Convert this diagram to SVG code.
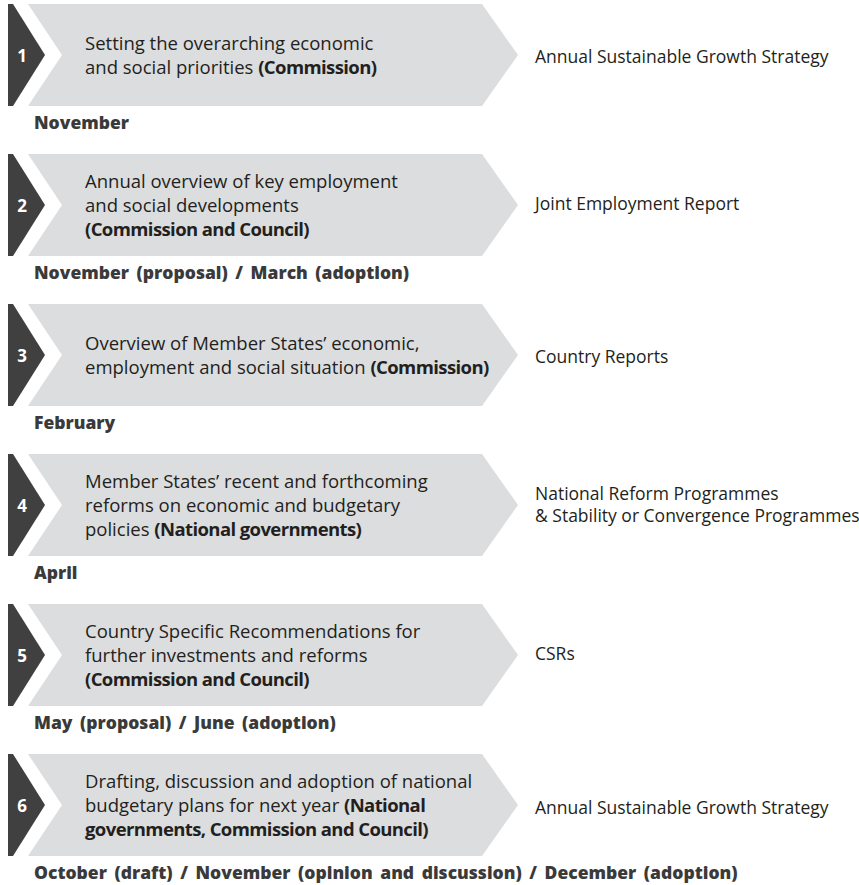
<svg xmlns="http://www.w3.org/2000/svg" width="859" height="885" viewBox="0 0 859 885">
<style>
.dark{fill:#404041}
.band{fill:#dcddde}
.num{font-family:"Open Sans","Liberation Sans",sans-serif;font-weight:700;font-size:17px;fill:#ffffff;text-anchor:middle}
.main{font-family:"Open Sans","Liberation Sans",sans-serif;font-size:18.5px;fill:#231f20}
.b{font-weight:700;letter-spacing:-0.6px}
.out{font-family:"Open Sans","Liberation Sans",sans-serif;font-size:17.5px;fill:#231f20}
.month{font-family:"Open Sans","Liberation Sans",sans-serif;font-weight:800;font-size:17.5px;word-spacing:3px;fill:#3a3a3b}
</style>
<defs>
<g id="step">
<polygon class="dark" points="8,0 13,0 45,51 13,102 8,102"/>
<polygon class="band" points="28,0 482,0 518,51 482,102 28,102 62,51"/>
</g>
</defs>
<g id="connectors"></g>
<g id="step1">
<use href="#step" x="0" y="4"/>
<text class="num" x="22" y="61.5">1</text>
<text class="main"><tspan x="85" y="49.5">Setting the overarching economic</tspan><tspan x="85" y="73.5">and social priorities <tspan class="b">(Commission)</tspan></tspan></text>
<text class="out" x="535" y="62.5">Annual Sustainable Growth Strategy</text>
<text class="month" x="34" y="129">November</text>
</g>
<g id="step2">
<use href="#step" x="0" y="154"/>
<text class="num" x="22" y="211.5">2</text>
<text class="main"><tspan x="85" y="187.5">Annual overview of key employment</tspan><tspan x="85" y="211.5">and social developments</tspan><tspan x="85" y="235.5" class="b">(Commission and Council)</tspan></text>
<text class="out" x="535" y="210">Joint Employment Report</text>
<text class="month" x="34" y="279">November (proposal) / March (adoption)</text>
</g>
<g id="step3">
<use href="#step" x="0" y="304"/>
<text class="num" x="22" y="361.5">3</text>
<text class="main"><tspan x="85" y="349.5">Overview of Member States’ economic,</tspan><tspan x="85" y="373.5">employment and social situation <tspan class="b">(Commission)</tspan></tspan></text>
<text class="out" x="535" y="363">Country Reports</text>
<text class="month" x="34" y="429">February</text>
</g>
<g id="step4">
<use href="#step" x="0" y="454"/>
<text class="num" x="22" y="511.5">4</text>
<text class="main"><tspan x="85" y="487.5">Member States’ recent and forthcoming</tspan><tspan x="85" y="511.5">reforms on economic and budgetary</tspan><tspan x="85" y="535.5">policies <tspan class="b">(National governments)</tspan></tspan></text>
<text class="out"><tspan x="535" y="500">National Reform Programmes</tspan><tspan x="535" y="522">&amp; Stability or Convergence Programmes</tspan></text>
<text class="month" x="34" y="579">April</text>
</g>
<g id="step5">
<use href="#step" x="0" y="604"/>
<text class="num" x="22" y="661.5">5</text>
<text class="main"><tspan x="85" y="637.5">Country Specific Recommendations for</tspan><tspan x="85" y="661.5">further investments and reforms</tspan><tspan x="85" y="685.5" class="b">(Commission and Council)</tspan></text>
<text class="out" x="535" y="660">CSRs</text>
<text class="month" x="34" y="729">May (proposal) / June (adoption)</text>
</g>
<g id="step6">
<use href="#step" x="0" y="754"/>
<text class="num" x="22" y="811.5">6</text>
<text class="main"><tspan x="85" y="787.5">Drafting, discussion and adoption of national</tspan><tspan x="85" y="811.5">budgetary plans for next year <tspan class="b">(National</tspan></tspan><tspan x="85" y="835.5" class="b">governments, Commission and Council)</tspan></text>
<text class="out" x="535" y="814">Annual Sustainable Growth Strategy</text>
<text class="month" x="34" y="879">October (draft) / November (opinion and discussion) / December (adoption)</text>
</g>
</svg>
